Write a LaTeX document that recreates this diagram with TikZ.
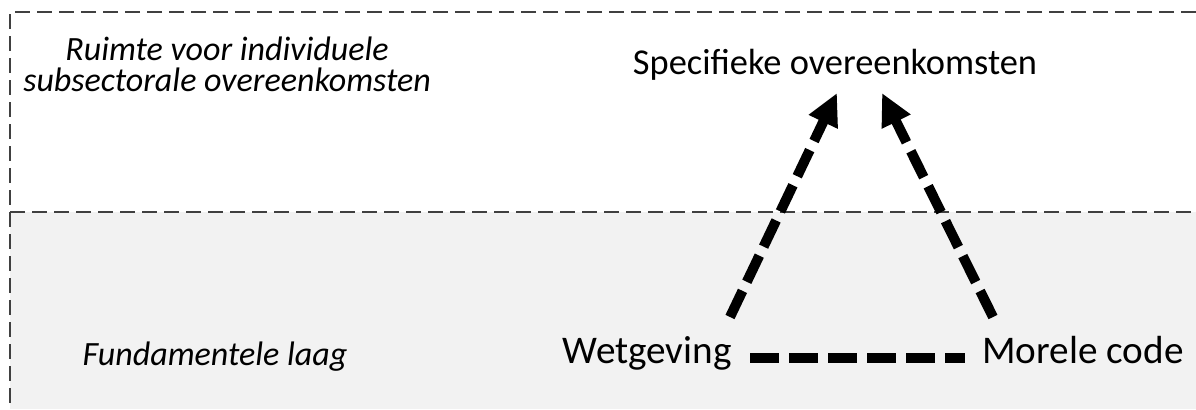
\documentclass[tikz,border=0pt]{standalone}
\usepackage{fontspec}
\setmainfont{Carlito}
\usetikzlibrary{
    arrows.meta,  % arrow tips
    positioning,  % better custom positioning
}
\definecolor{laaggrijs}{HTML}{F2F2F2}
\definecolor{randgrijs}{HTML}{404040}
\tikzset{
    lbl/.style={inner sep=0pt, font=\fontsize{19.6}{24}\selectfont},
    ital/.style={inner sep=0pt, align=center, font=\fontsize{17}{15.5}\selectfont\itshape},
    rand/.style={randgrijs, line width=0.6pt, dash pattern=on 7.5pt off 3.5pt},
    verband/.style={line width=5pt, dash pattern=on 14.5pt off 5pt},
    pijl/.style={verband, -{Triangle[length=16pt, width=15pt]}},
}

\begin{document}
\begin{tikzpicture}[x=0.5pt, y=-0.5pt]
            \useasboundingbox (0, 0) rectangle (1196, 409);
            \fill[laaggrijs] (10, 212) rectangle (1196, 409);
            \draw[rand] (1196, 12) -- (10, 12) -- (10, 409);
            \draw[rand] (10, 212) -- (1196, 212);
    
            \node[ital] (ruimte) at (227, 64) {Ruimte voor individuele\\subsectorale overeenkomsten};
            \node[ital, anchor=base] (fund) at (215, 365) {Fundamentele laag};
            \node[lbl, font=\fontsize{18.2}{22}\selectfont, anchor=base] (spec) at (835, 74) {Specifieke overeenkomsten};
            \node[lbl, anchor=base east] (wet) at (732, 363) {Wetgeving};
            \node[lbl, anchor=base west] (moreel) at (982, 363) {Morele code};
            \draw[verband] ([xshift=9pt, yshift=2.5pt]wet.base east) -- ([xshift=-8.5pt, yshift=2.5pt]moreel.base west);
            \draw[pijl] ([xshift=-1pt, yshift=23pt]wet.base east) -- ([xshift=1pt, yshift=-9.5pt]spec.base);
            \draw[pijl] ([xshift=5.5pt, yshift=23pt]moreel.base west) -- ([xshift=23.5pt, yshift=-9.5pt]spec.base);
        \end{tikzpicture}
\end{document}
